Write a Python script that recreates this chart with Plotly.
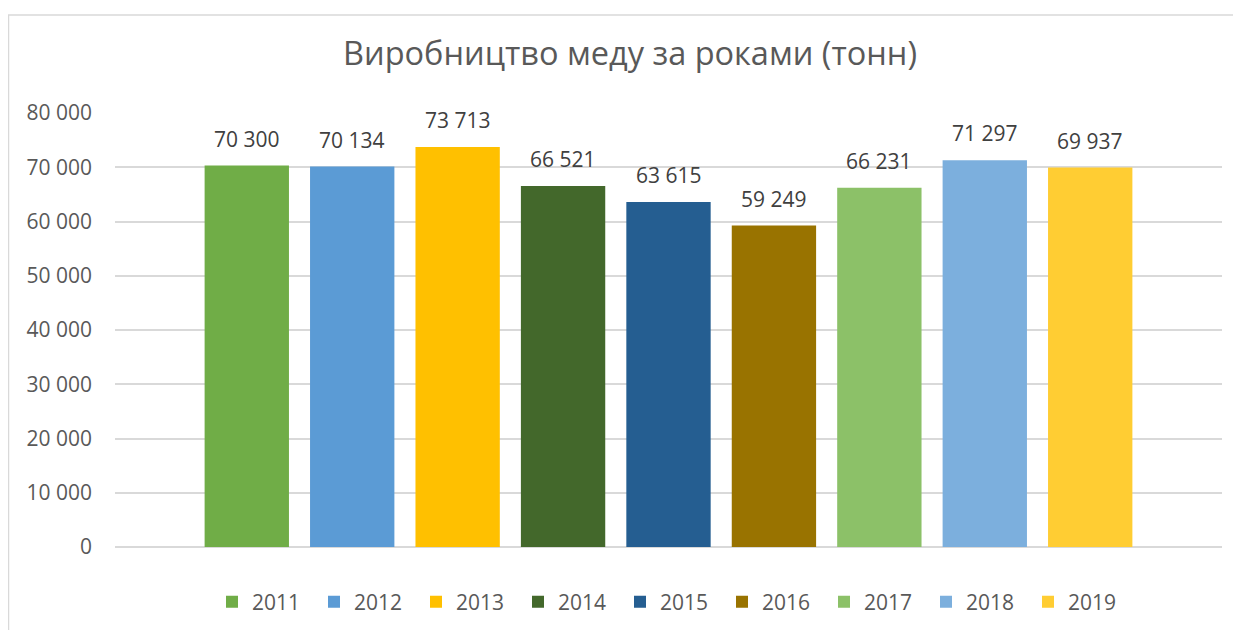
import plotly.graph_objects as go

years = ["2011", "2012", "2013", "2014", "2015", "2016", "2017", "2018", "2019"]
values = [70300, 70134, 73713, 66521, 63615, 59249, 66231, 71297, 69937]
colors = ["#70AD47", "#5B9BD5", "#FFC000", "#43682B", "#255E91",
          "#997300", "#8CC168", "#7CAFDD", "#FFCD33"]
title_text = "Виробництво меду за роками (тонн)"
y_ticks = [0, 10000, 20000, 30000, 40000, 50000, 60000, 70000, 80000]

FONT = "Open Sans"
OFF = 8  # page body margin
W, H = 1241 - OFF, 630 - OFF
# target plot area in page pixels: x 115..1222, y 113..547
ML, MT = 115 - OFF, 113 - OFF
MR, MB = W - (1222 - OFF), H - (547 - OFF)
pw = W - ML - MR
ph = H - MT - MB

def fmt(v):
    return f"{v:,}".replace(",", " ")

def py(page_y):
    return (ph - (page_y - OFF - MT)) / ph

def px(page_x):
    return (page_x - OFF - ML) / pw

fig = go.Figure()
for yr, v, c in zip(years, values, colors):
    fig.add_trace(go.Bar(x=[yr], y=[v], name=yr, marker=dict(color=c, line=dict(width=0)),
                         hoverinfo="x+y"))

annotations = []
for i, v in enumerate(values):
    annotations.append(dict(x=i, y=v, xref="x", yref="y", text=fmt(v), showarrow=False,
                            yanchor="bottom", yshift=11,
                            font=dict(family=FONT, size=21, color="#404040")))

fig.update_layout(
    width=W, height=H,
    margin=dict(l=ML, r=MR, t=MT, b=MB, pad=0, autoexpand=False),
    paper_bgcolor="white", plot_bgcolor="white",
    barmode="relative", bargap=0.2,
    title=dict(text=title_text, x=(630 - OFF) / W, xanchor="center",
               y=1 - (54 - OFF) / H, yanchor="middle",
               font=dict(family=FONT, size=32.5, color="#595959")),
    xaxis=dict(type="category", categoryorder="array", categoryarray=years,
               range=[-1.25, 9.25], showticklabels=False, showgrid=False,
               zeroline=False, showline=False, ticks=""),
    yaxis=dict(range=[0, 80000], tickvals=y_ticks, ticktext=[fmt(t) for t in y_ticks],
               showgrid=True, gridcolor="#D9D9D9", gridwidth=1.5, zeroline=True,
               zerolinecolor="#D9D9D9", zerolinewidth=2, showline=False, ticks="",
               ticklabelstandoff=22,
               tickfont=dict(family=FONT, size=21, color="#595959")),
    legend=dict(orientation="h", x=px(671), xanchor="center", y=py(602),
                yanchor="middle", entrywidth=57, entrywidthmode="pixels",
                font=dict(family=FONT, size=21, color="#595959"), itemclick=False,
                traceorder="normal", itemwidth=30),
    annotations=annotations,
    showlegend=True,
)

fig.add_shape(type="rect", xref="paper", yref="paper",
              x0=px(8.5), x1=px(1270), y0=py(660), y1=py(15),
              line=dict(color="#D9D9D9", width=1.5), fillcolor="rgba(0,0,0,0)", layer="below")

fig.write_html("out.html")
